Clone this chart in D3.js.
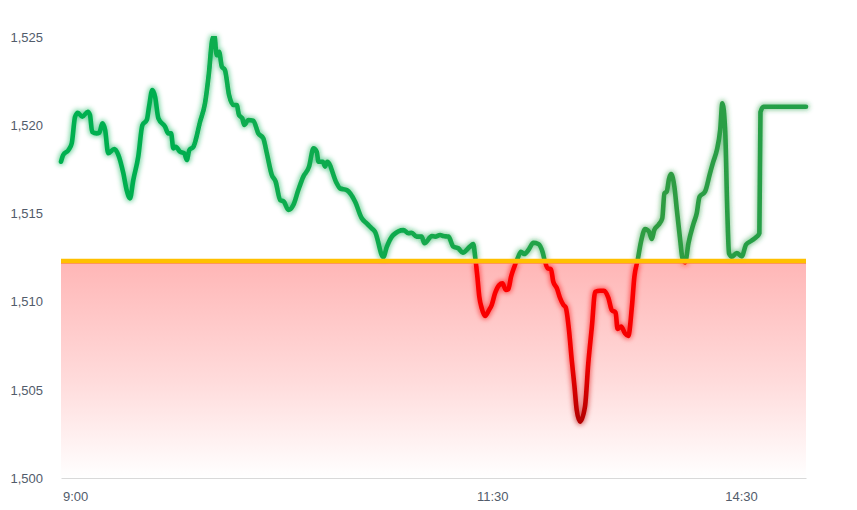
<!DOCTYPE html>
<html>
<head>
<meta charset="utf-8">
<script src="https://cdn.jsdelivr.net/npm/d3@7"></script>
<style>
  body { margin: 0; background: #fff; }
  #chart text { font-family: "Liberation Sans", Arial, sans-serif; font-size: 13px; fill: #525c6b; }
</style>
</head>
<body>
<div id="chart"></div>
<script>
// trading minutes since 9:00 (lunch break cut out) and the price at that point
var minutes = [0,0.8,2.7,3.9,5.1,6.1,7.7,9.7,10.5,11.3,
    12.9,13.9,15,16,17.1,19.3,20.8,22.6,23.8,25,
    26.2,28,29.5,31.1,31.9,33.1,34.1,35.3,37.7,38.9,
    39.9,40.7,41.6,43.1,44.7,45.6,46.5,48,50.4,52.2,
    53.6,54.8,55.6,56.4,57.3,58.3,59.4,60.9,62.5,63.7,
    64.5,65.7,66.4,67.9,69.7,71.5,73.3,74.6,76.4,77.8,
    79.4,80.8,82.4,84.2,86,87.8,89.9,91.5,92.7,93.3,
    94.9,95.7,96.5,99.9,101.1,103.6,106.6,109,110.8,112.6,
    113.8,116.8,118.1,120.4,124.1,125.9,127.1,128.9,130.7,131.7,
    134.4,135.6,137.4,138.6,140.4,142.2,144,145.6,148.2,149.4,
    150.1,150.9,151.6,152.5,153.7,155.1,156.1,157.3,158.8,160,
    161.2,162.1,163.1,164.3,165.5,166.7,167.9,169.4,171.2,173,
    174.5,175.4,176.4,177.6,178.4,179.7,180.9,182.1,182.9,184.1,
    185.1,186.1,186.9,188.1,189.9,191.1,192.4,193.6,195.4,196.8,
    198.4,199.6,201,201.7,203,204.4,205.6,206.9,207.8,209,
    210.2,211.7,213.1,214.1,215,216.5,217.9,218.7,219.5,220.4,
    221.1,222.3,223.2,224.4,225.2,226.2,227.4,229.2,230.4,231.4,
    233.4,235.2,236.4,237.7,238.9,239.7,240.7,241.5,242.1,243.1,
    244.9,246.7,248.3,250.1,252.2,253.1,253.5,254.6,270];

var prices = [1517.95,1518.33,1518.61,1519.0,1520.5,1520.73,1520.5,1520.79,1520.6,1519.65,
    1519.56,1519.6,1520.13,1519.75,1518.43,1518.67,1518.33,1517.29,1516.34,1515.87,
    1516.91,1518.24,1520.03,1520.32,1521.07,1522.02,1521.64,1520.41,1519.94,1519.56,
    1519.56,1518.71,1518.8,1518.52,1518.43,1518.05,1518.61,1518.8,1520.22,1521.27,
    1522.97,1524.86,1525.1,1524.0,1524.19,1523.34,1523.16,1521.74,1521.17,1521.17,
    1520.6,1520.41,1520.03,1520.32,1520.28,1519.56,1519.28,1518.43,1517.2,1516.82,
    1515.78,1515.68,1515.21,1515.49,1516.34,1517.1,1517.67,1518.71,1518.5,1517.95,
    1517.95,1517.67,1517.95,1516.73,1516.44,1516.34,1515.68,1514.74,1514.45,1514.17,
    1513.98,1512.54,1513.13,1513.79,1514.07,1513.89,1513.92,1513.7,1513.7,1513.32,
    1513.73,1513.7,1513.79,1513.73,1513.7,1513.13,1513.04,1512.79,1513.13,1513.28,
    1512.56,1511.42,1510.29,1509.63,1509.19,1509.53,1509.82,1510.48,1510.95,1511.05,
    1510.67,1510.71,1511.42,1511.99,1512.47,1512.84,1512.71,1512.94,1513.35,1513.28,
    1512.84,1512.28,1511.9,1511.84,1511.14,1510.77,1510.2,1509.82,1509.69,1508.4,
    1506.7,1505.18,1503.86,1503.2,1504.05,1506.51,1508.59,1510.57,1510.63,1510.63,
    1510.22,1509.53,1509.39,1508.46,1508.6,1508.21,1508.06,1509.72,1511.42,1512.37,
    1513.41,1514.13,1513.98,1513.56,1514.07,1514.36,1514.74,1516.16,1516.25,1517.01,
    1517.25,1516.53,1515.21,1513.51,1512.49,1512.23,1513.32,1514.42,1515.02,1515.96,
    1516.25,1517.29,1517.95,1518.61,1519.75,1521.27,1519.75,1515.04,1512.75,1512.56,
    1512.77,1512.58,1513.25,1513.45,1513.7,1513.89,1520.77,1521.07,1521.07];

var refPrice = 1512.3;   // yesterday's close / reference line
var yTicks = [1500, 1505, 1510, 1515, 1520, 1525];
var tickMinutes = [0, 150, 240];
var tickLabels = ["9:00", "11:30", "14:30"];

(function() {
    var width = 857,
        height = 510;

    var svg = d3.select("#chart")
        .append("svg")
        .attr("width", width)
        .attr("height", height);

    var x = d3.scaleLinear().domain([0, 270]).range([61, 806]);
    var y = d3.scaleLinear().domain([1500, 1525]).range([478, 37.5]);

    var data = minutes.map(function(m, i) {
        return { m: m, p: prices[i] };
    });

    var defs = svg.append("defs");

    // pink fill under the reference line
    var areaGrad = defs.append("linearGradient")
        .attr("id", "areaGrad")
        .attr("x1", 0).attr("y1", 0).attr("x2", 0).attr("y2", 1);
    areaGrad.append("stop").attr("offset", "0%").attr("stop-color", "#ffb6b6");
    areaGrad.append("stop").attr("offset", "55%").attr("stop-color", "#ffdbdb");
    areaGrad.append("stop").attr("offset", "100%").attr("stop-color", "#ffffff");

    // green goes a bit darker towards the afternoon
    var greenGrad = defs.append("linearGradient")
        .attr("id", "greenGrad")
        .attr("gradientUnits", "userSpaceOnUse")
        .attr("x1", x(0)).attr("y1", 0).attr("x2", x(270)).attr("y2", 0);
    greenGrad.append("stop").attr("offset", "0%").attr("stop-color", "#00b050");
    greenGrad.append("stop").attr("offset", "45%").attr("stop-color", "#10aa4e");
    greenGrad.append("stop").attr("offset", "80%").attr("stop-color", "#2f9c42");
    greenGrad.append("stop").attr("offset", "100%").attr("stop-color", "#22a048");

    // red goes darker the deeper it falls
    var redGrad = defs.append("linearGradient")
        .attr("id", "redGrad")
        .attr("gradientUnits", "userSpaceOnUse")
        .attr("x1", 0).attr("y1", y(refPrice)).attr("x2", 0).attr("y2", y(1503));
    redGrad.append("stop").attr("offset", "0%").attr("stop-color", "#ff0000");
    redGrad.append("stop").attr("offset", "60%").attr("stop-color", "#f20000");
    redGrad.append("stop").attr("offset", "100%").attr("stop-color", "#b00000");

    // soft glow round the line
    var glow = defs.append("filter")
        .attr("id", "glow")
        .attr("x", "-5%").attr("y", "-10%")
        .attr("width", "110%").attr("height", "120%");
    glow.append("feMorphology")
        .attr("in", "SourceGraphic")
        .attr("operator", "dilate")
        .attr("radius", 1.2)
        .attr("result", "fat");
    glow.append("feGaussianBlur")
        .attr("in", "fat")
        .attr("stdDeviation", 2.4)
        .attr("result", "blur");
    glow.append("feComponentTransfer")
        .attr("in", "blur")
        .attr("result", "soft")
        .append("feFuncA").attr("type", "linear").attr("slope", 0.55);
    var merge = glow.append("feMerge");
    merge.append("feMergeNode").attr("in", "soft");
    merge.append("feMergeNode").attr("in", "SourceGraphic");

    defs.append("clipPath").attr("id", "above")
        .append("rect")
        .attr("x", 0).attr("y", y(1525) - 1.5)
        .attr("width", width).attr("height", y(refPrice) - y(1525) + 1.5);
    defs.append("clipPath").attr("id", "below")
        .append("rect")
        .attr("x", 0).attr("y", y(refPrice))
        .attr("width", width).attr("height", height - y(refPrice));

    // area under the reference line
    svg.append("rect")
        .attr("x", x(0))
        .attr("y", y(refPrice))
        .attr("width", x(270) - x(0))
        .attr("height", y(1500) - y(refPrice))
        .attr("fill", "url(#areaGrad)");

    // axes
    var yAxis = svg.append("g")
        .attr("transform", "translate(43,0)")
        .call(d3.axisLeft(y).tickValues(yTicks).tickSize(0).tickPadding(0).tickFormat(d3.format(",")));
    yAxis.select(".domain").remove();

    var xAxis = svg.append("g")
        .attr("transform", "translate(0," + y(1500) + ")")
        .call(d3.axisBottom(x).tickValues(tickMinutes).tickSize(0).tickSizeOuter(0)
            .tickFormat(function(d, i) { return tickLabels[i]; }));
    xAxis.select(".domain").attr("stroke", "#d9d9d9").attr("stroke-width", 1);
    xAxis.selectAll("text")
        .attr("text-anchor", "start")
        .attr("x", 1.5)
        .attr("y", 14)
        .attr("dy", "0.71em");

    var line = d3.line()
        .x(function(d) { return x(d.m) })
        .y(function(d) { return y(d.p) })
        .curve(d3.curveMonotoneX);

    var lineG = svg.append("g").attr("filter", "url(#glow)");

    lineG.append("path")
        .datum(data)
        .attr("d", line)
        .attr("clip-path", "url(#above)")
        .attr("fill", "none")
        .attr("stroke", "url(#greenGrad)")
        .attr("stroke-width", 4.6)
        .attr("stroke-linejoin", "round")
        .attr("stroke-linecap", "round");

    lineG.append("path")
        .datum(data)
        .attr("d", line)
        .attr("clip-path", "url(#below)")
        .attr("fill", "none")
        .attr("stroke", "url(#redGrad)")
        .attr("stroke-width", 4.6)
        .attr("stroke-linejoin", "round")
        .attr("stroke-linecap", "round");

    // reference line sits on top: orange edge + yellow band
    svg.append("line")
        .attr("x1", x(0)).attr("x2", x(270))
        .attr("y1", y(refPrice) + 1.8).attr("y2", y(refPrice) + 1.8)
        .attr("stroke", "#ff8a3d")
        .attr("stroke-width", 1.6);
    svg.append("line")
        .attr("x1", x(0)).attr("x2", x(270))
        .attr("y1", y(refPrice) - 0.4).attr("y2", y(refPrice) - 0.4)
        .attr("stroke", "#ffc000")
        .attr("stroke-width", 4.4);
})();
</script>
</body>
</html>
